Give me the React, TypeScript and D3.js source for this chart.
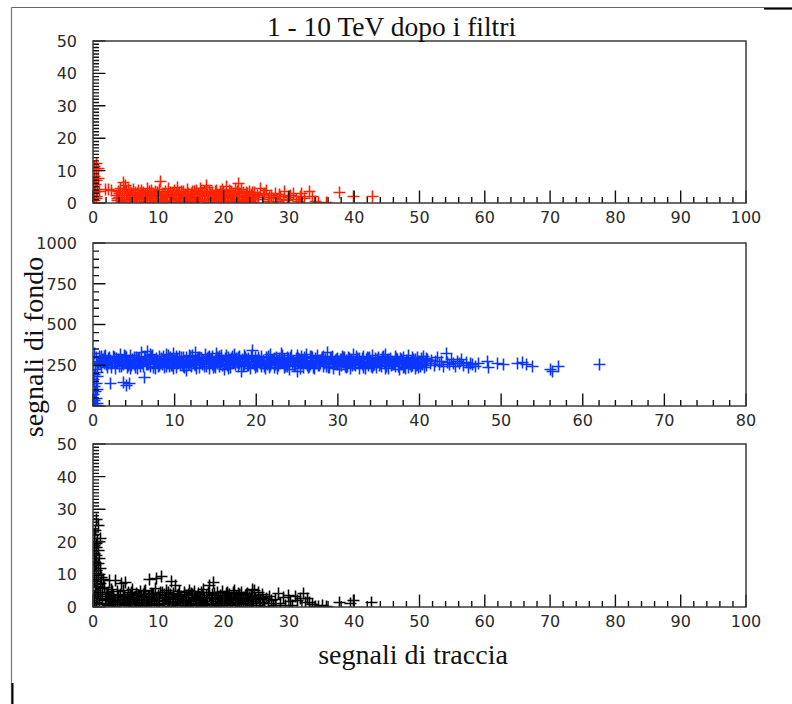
import React from 'react';
import * as d3 from 'd3';

type Pt = [number, number];

// ---- axis ticks and texts ----
const xTicksWide = [0, 10, 20, 30, 40, 50, 60, 70, 80, 90, 100];
const xTicksNarrow = [0, 10, 20, 30, 40, 50, 60, 70, 80];
const yTicksSmall = [0, 10, 20, 30, 40, 50];
const yTicksLarge = [0, 250, 500, 750, 1000];

const titleText = '1 - 10 TeV dopo i filtri';
const xAxisTitle = 'segnali di traccia';
const yAxisTitle = 'segnali di fondo';

// ---- upper panel: red events (traccia, fondo) ----
const redPoints: Pt[] = [
  [0.5,12.2],[0.3,11.2],[0.9,10.6],[0.6,9.9],[0.2,8.1],[0.8,7.5],[0.5,6.9],[0.1,6.2],[0.4,5.6],[0.7,4.3],
  [1.0,3.6],[0.3,3.1],[0.6,2.0],[0.5,1.5],[0.2,0.9],[1.9,4.3],[2.4,4.1],[2.8,3.9],
  [3.6,2.2],[3.8,0.9],[3.9,3.4],[4.1,1.6],[4.2,4.4],[4.4,0.5],[4.5,2.8],[4.6,6.4],[4.8,1.2],[4.9,3.7],
  [5.0,5.3],[5.1,0.3],[5.3,2.4],[5.4,4.1],[5.6,1.8],[5.7,3.1],[5.9,0.7],[6.0,2.6],[6.2,4.3],[6.3,1.4],
  [6.5,3.3],[6.6,0.4],[6.8,2.1],[6.9,3.8],[7.1,1.0],[7.2,2.9],[7.4,0.6],[7.5,4.0],[7.7,1.7],[7.8,3.2],
  [8.0,0.2],[8.1,2.5],[8.3,4.5],[8.4,1.3],[8.6,3.5],[8.7,0.8],[8.9,2.3],[9.0,3.9],[9.2,1.5],[9.3,2.8],
  [9.5,0.5],[9.6,3.6],[9.8,1.9],[9.9,2.7],[10.1,0.9],[10.2,4.2],[10.4,6.5],[10.5,1.1],[10.7,3.0],[10.8,2.0],
  [11.0,0.4],[11.1,3.7],[11.3,1.6],[11.4,2.6],[11.6,4.6],[11.7,0.7],[11.9,3.1],[12.0,1.8],[12.2,2.4],[12.3,0.3],
  [12.5,3.9],[12.6,1.2],[12.8,2.9],[12.9,4.8],[13.1,0.8],[13.2,3.3],[13.4,1.5],[13.5,2.2],[13.7,0.5],[13.8,3.6],
  [14.0,1.9],[14.1,2.7],[14.3,0.2],[14.4,4.1],[14.6,1.4],[14.7,3.0],[14.9,2.1],[15.0,0.6],[15.2,3.4],[15.3,1.7],
  [15.5,2.5],[15.6,0.9],[15.8,3.8],[15.9,1.3],[16.1,2.8],[16.2,0.4],[16.4,3.2],[16.5,4.4],[16.7,1.0],[16.8,2.3],
  [17.0,3.5],[17.1,0.7],[17.3,1.9],[17.4,4.7],[17.4,5.5],[17.6,2.6],[17.7,1.2],[17.9,3.7],[18.0,0.3],[18.2,2.2],
  [18.3,3.1],[18.5,1.5],[18.6,0.8],[18.8,2.9],[18.9,4.0],[19.1,1.1],[19.2,2.4],[19.4,0.5],[19.5,3.4],[19.7,1.8],
  [19.8,4.3],[20.0,2.7],[20.1,0.9],[20.3,1.6],[20.4,3.3],[20.5,5.0],[20.6,0.4],[20.7,2.1],[20.9,3.9],[21.0,1.3],
  [21.2,2.6],[21.3,0.7],[21.5,3.0],[21.6,1.9],[21.8,4.5],[21.9,0.2],[22.1,2.3],[22.2,3.6],[22.3,6.0],[22.4,1.0],
  [22.5,2.8],[22.7,4.2],[22.8,0.6],[23.0,1.7],[23.1,3.2],[23.3,2.0],[23.4,0.4],[23.6,2.9],[23.7,1.4],[23.9,3.5],
  [24.0,0.8],[24.2,2.5],[24.3,1.2],[24.5,3.1],[24.6,0.3],[24.8,2.0],[24.9,1.6],
  [3.75,1.4],[4.05,2.9],[4.35,0.8],[4.75,2.2],[5.15,3.6],[5.55,1.1],[5.95,2.9],[6.35,0.6],[6.75,3.0],[7.15,1.8],
  [7.55,2.6],[7.95,1.0],[8.35,3.0],[8.75,2.0],[9.15,0.9],[9.55,2.2],[9.95,3.3],[10.35,1.5],[10.75,0.6],[11.15,2.3],
  [11.55,3.4],[11.95,0.9],[12.35,2.7],[12.75,1.4],[13.15,2.5],[13.55,3.7],[13.95,0.7],[14.35,2.4],[14.75,1.1],[15.15,2.9],
  [15.55,3.6],[15.95,2.0],[16.35,1.2],[16.75,3.0],[17.15,2.1],[17.55,0.8],[17.95,2.7],[18.35,1.4],[18.75,3.5],[19.15,2.0],
  [19.55,0.7],[19.95,3.1],[20.35,2.4],[20.75,1.3],[21.15,3.4],[21.55,2.2],[21.95,1.0],[22.35,3.0],[22.75,2.0],[23.15,0.9],
  [23.55,3.3],[23.95,2.2],[24.35,1.0],[24.75,3.2],[25.4,1.8],[26.1,2.6],[27.0,1.7],[28.5,2.7],[30.0,1.6],[31.8,2.0],
  [25.2,2.4],[25.6,4.6],[25.9,1.1],[26.3,2.9],[26.6,3.9],[26.9,0.6],[27.3,2.2],[27.6,1.4],[28.0,3.0],[28.3,0.5],
  [28.7,2.1],[29.1,1.2],[29.4,3.6],[29.8,0.9],[30.2,2.3],[30.7,3.0],[31.1,1.1],[31.5,0.4],[32.0,2.8],[32.4,1.5],
  [33.2,3.6],[33.6,1.9],[34.1,0.6],[34.6,0.3],[35.8,0.2],[37.8,3.2],[39.9,1.9],[42.8,1.9],
];

// ---- middle panel: blue events ----
const bluePoints: Pt[] = [
  [0.2,322],[0.4,296],[0.1,271],[0.5,246],[0.3,221],[0.2,196],[0.6,178],[0.1,160],[0.4,141],[0.2,122],
  [0.5,104],[0.3,86],[0.1,69],[0.4,48],[0.2,31],[0.5,14],[0.3,4],[0.7,262],[0.8,304],[0.6,208],
  [2.1,138],[3.7,142],[4.1,128],[4.5,135],[6.3,174],
  [0.9,268],[1.0,301],[1.1,244],[1.3,285],[1.4,259],[1.5,312],[1.7,276],[1.8,238],[1.9,290],[2.1,263],
  [2.2,281],[2.3,249],[2.5,305],[2.6,272],[2.7,227],[2.9,294],[3.0,258],[3.1,283],[3.3,241],[3.4,318],
  [3.5,270],[3.7,252],[3.8,288],[3.9,265],[4.1,299],[4.2,236],[4.3,279],[4.5,261],[4.6,308],[4.7,247],
  [4.9,284],[5.0,271],[5.1,256],[5.3,296],[5.4,233],[5.5,277],[5.7,289],[5.8,250],[5.9,326],[6.1,266],
  [6.2,240],[6.3,302],[6.5,274],[6.6,255],[6.7,337],[6.9,286],[7.0,243],[7.1,269],[7.3,311],[7.4,260],
  [7.5,281],[7.7,229],[7.8,292],[7.9,267],[8.1,248],[8.2,304],[8.3,276],[8.5,257],[8.6,287],[8.7,239],
  [8.9,273],[9.0,315],[9.1,262],[9.3,283],[9.4,245],[9.5,298],[9.7,270],[9.8,251],[9.9,322],[10.1,279],
  [10.2,234],[10.3,291],[10.5,264],[10.6,306],[10.7,246],[10.9,282],[11.0,258],[11.1,296],[11.3,271],[11.4,218],
  [11.5,288],[11.7,253],[11.8,309],[11.9,275],[12.1,242],[12.2,285],[12.3,266],[12.5,329],[12.6,249],[12.7,278],
  [12.9,300],[13.0,237],[13.1,269],[13.3,292],[13.4,256],[13.5,281],[13.7,244],[13.8,313],[13.9,272],[14.1,260],
  [14.2,297],[14.3,231],[14.5,284],[14.6,266],[14.7,303],[14.9,250],[15.0,277],[15.1,321],[15.3,258],[15.4,289],
  [15.5,241],[15.7,274],[15.8,307],[15.9,263],[16.1,226],[16.2,286],[16.3,270],[16.5,248],[16.6,299],[16.7,279],
  [16.9,238],[17.0,292],[17.1,262],[17.3,316],[17.4,254],[17.5,283],[17.7,268],[17.8,243],[17.9,301],[18.1,273],
  [18.2,214],[18.3,288],[18.5,257],[18.6,311],[18.7,276],[18.9,247],[19.0,294],[19.1,265],[19.3,232],[19.4,284],
  [19.5,340],[19.7,270],[19.8,252],[19.9,298],[20.1,279],[20.2,240],[20.3,290],[20.5,261],[20.6,305],[20.7,245],
  [20.9,282],[21.0,267],[21.1,228],[21.3,296],[21.4,256],[21.5,278],[21.7,313],[21.8,249],[21.9,272],[22.1,287],
  [22.2,235],[22.3,263],[22.5,300],[22.6,274],[22.7,246],[22.9,291],[23.0,259],[23.1,320],[23.3,269],[23.4,239],
  [23.5,284],[23.7,253],[23.8,297],[23.9,266],[24.1,224],[24.2,280],[24.3,308],[24.5,257],[24.6,275],[24.7,243],
  [24.9,293],[25.0,264],[25.1,211],[25.3,285],[25.4,250],[25.5,303],[25.7,271],[25.8,237],[25.9,289],[26.1,260],
  [26.2,317],[26.3,276],[26.5,244],[26.6,282],[26.7,255],[26.9,298],[27.0,268],[27.1,229],[27.3,290],[27.4,262],
  [27.5,310],[27.7,247],[27.8,279],[27.9,258],[28.1,295],[28.2,240],[28.3,273],[28.5,286],[28.6,252],[28.7,327],
  [28.9,266],[29.0,236],[29.1,283],[29.3,261],[29.4,301],[29.5,245],[29.7,277],[29.8,256],[29.9,292],[30.1,270],
  [30.2,222],[30.3,288],[30.5,251],[30.6,306],[30.7,264],[30.9,241],[31.0,281],[31.1,259],[31.3,297],[31.4,272],
  [31.5,233],[31.7,286],[31.8,254],[31.9,314],[32.1,267],[32.2,246],[32.3,279],[32.5,261],[32.6,294],[32.7,238],
  [32.9,274],[33.0,256],[33.1,302],[33.3,269],[33.4,227],[33.5,284],[33.7,250],[33.8,290],[33.9,263],[34.1,243],
  [34.2,309],[34.3,276],[34.5,255],[34.6,282],[34.7,234],[34.9,268],[35.0,296],[35.1,258],[35.3,272],[35.4,242],
  [35.5,287],[35.7,262],[35.8,318],[35.9,251],[36.1,278],[36.2,231],[36.3,265],[36.5,293],[36.6,248],[36.7,274],
  [36.9,259],[37.0,305],[37.1,240],[37.3,283],[37.4,264],[37.5,226],[37.7,290],[37.8,253],[37.9,271],[38.1,299],
  [38.2,245],[38.3,262],[38.5,281],[38.6,236],[38.7,309],[38.9,257],[39.0,275],[39.1,249],[39.3,288],[39.4,266],
  [39.5,232],[39.7,295],[39.8,254],[39.9,273],[40.1,244],[40.2,284],[40.3,260],[40.5,302],[40.6,239],[40.7,270],
  [40.9,251],[41.0,286],
  [1.2,283],[1.6,256],[2.0,297],[2.4,270],[2.8,247],[3.2,288],[3.6,262],[4.0,305],[4.4,251],[4.8,276],
  [5.2,239],[5.6,293],[6.0,268],[6.4,284],[6.8,255],[7.2,299],[7.6,273],[8.0,242],[8.4,289],[8.8,263],
  [9.2,307],[9.6,249],[10.0,280],[10.4,258],[10.8,295],[11.2,236],[11.6,271],[12.0,302],[12.4,254],[12.8,287],
  [13.2,266],[13.6,245],[14.0,291],[14.4,276],[14.8,235],[15.2,298],[15.6,262],[16.0,281],[16.4,309],[16.8,250],
  [17.2,273],[17.6,292],[18.0,258],[18.4,240],[18.8,285],[19.2,267],[19.6,304],[20.0,248],[20.4,279],[20.8,263],
  [21.2,296],[21.6,237],[22.0,282],[22.4,255],[22.8,271],[23.2,310],[23.6,244],[24.0,289],[24.4,265],[24.8,251],
  [25.2,293],[25.6,259],[26.0,280],[26.4,234],[26.8,303],[27.2,272],[27.6,249],[28.0,286],[28.4,261],[28.8,238],
  [29.2,294],[29.6,266],[30.0,253],[30.4,283],[30.8,298],[31.2,244],[31.6,275],[32.0,257],[32.4,289],[32.8,265],
  [33.2,235],[33.6,296],[34.0,270],[34.4,248],[34.8,284],[35.2,261],[35.6,305],[36.0,243],[36.4,277],[36.8,255],
  [37.2,291],[37.6,268],[38.0,238],[38.4,282],[38.8,260],[39.2,299],[39.6,247],[40.0,276],[40.4,256],[40.8,290],
  [1.05,246],[1.45,303],[1.85,262],[2.25,236],[2.65,298],[3.05,271],[3.45,244],[3.85,309],[4.25,258],[4.65,232],
  [5.05,300],[5.45,266],[5.85,241],[6.25,296],[6.65,252],[7.05,314],[7.45,237],[7.85,280],[8.25,261],[8.65,303],
  [9.05,243],[9.45,290],[9.85,230],[10.25,305],[10.65,268],[11.05,240],[11.45,299],[11.85,257],[12.25,311],[12.65,233],
  [13.05,296],[13.45,270],[13.85,242],[14.25,304],[14.65,256],[15.05,238],[15.45,301],[15.85,246],[16.25,293],[16.65,229],
  [17.05,306],[17.45,263],[17.85,296],[18.25,241],[18.65,300],[19.05,250],[19.45,312],[19.85,236],[20.25,297],[20.65,269],
  [21.05,242],[21.45,303],[21.85,258],[22.25,292],[22.65,231],[23.05,300],[23.45,264],[23.85,240],[24.25,298],[24.65,252],
  [25.05,307],[25.45,233],[25.85,295],[26.25,247],[26.65,301],[27.05,238],[27.45,291],[27.85,260],[28.25,305],[28.65,242],
  [29.05,296],[29.45,231],[29.85,288],[30.25,255],[30.65,299],[31.05,237],[31.45,293],[31.85,248],[32.25,303],[32.65,230],
  [33.05,289],[33.45,258],[33.85,298],[34.25,236],[34.65,292],[35.05,246],[35.45,300],[35.85,232],[36.25,288],[36.65,256],
  [37.05,295],[37.45,241],[37.85,286],[38.25,229],[38.65,293],[39.05,244],[39.45,283],[39.85,236],[40.25,291],[40.65,247],
  [41.3,262],[41.5,281],[41.8,248],[42.0,270],[42.2,295],[42.5,257],[42.7,276],[43.0,240],[43.3,321],[43.4,266],
  [43.7,252],[43.9,284],[44.2,261],[44.4,243],[44.6,274],[44.9,258],[45.2,286],[45.4,249],[45.7,268],[46.0,236],
  [46.2,262],[46.5,255],[46.9,243],[47.2,260],
  [48.3,270],[48.5,239],[49.6,262],[50.3,252],[52.0,262],[52.6,268],[53.1,256],[53.8,244],[56.0,225],[56.3,214],
  [57.0,244],[62.0,256],
];

// ---- lower panel: black events ----
const blackPoints: Pt[] = [
  [0.6,26.7],[0.8,25.0],[0.4,23.6],[1.1,21.0],[0.3,22.2],[0.7,20.1],[0.2,19.0],[0.5,18.2],[0.9,17.4],[0.3,16.5],
  [0.6,15.7],[1.0,14.9],[0.2,14.0],[0.8,13.3],[0.4,12.6],[1.2,11.8],[0.6,11.1],[0.3,10.4],[0.9,9.7],[1.3,9.0],
  [0.5,8.4],[0.2,7.7],[1.1,7.1],[0.7,6.4],[1.5,5.8],[0.4,5.2],[0.9,4.6],[1.2,3.9],[0.3,3.3],[0.7,2.6],
  [1.4,2.0],[0.5,1.4],[1.0,0.8],[0.2,0.3],[0.6,19.4],[0.4,13.7],[0.8,10.1],[0.5,6.8],[1.6,8.3],[1.8,6.0],
  [2.0,3.1],[2.1,1.2],[2.3,4.4],[2.4,0.5],[2.5,2.6],[2.6,8.2],[2.8,1.8],[2.9,5.3],[3.0,0.9],[3.2,3.6],
  [3.3,2.2],[3.4,8.2],[3.5,0.3],[3.7,4.7],[3.8,1.5],[3.9,2.9],[4.1,0.7],[4.2,3.9],[4.4,7.2],[4.5,2.0],
  [4.6,5.1],[4.8,1.1],[4.9,3.3],[5.0,7.6],[5.2,0.4],[5.3,2.7],[5.4,4.5],[5.6,1.6],[5.7,3.8],[5.8,0.8],
  [6.0,2.4],[6.1,5.4],[6.3,1.3],[6.4,3.0],[6.5,0.2],[6.7,4.2],[6.8,2.1],[6.9,3.5],[7.1,0.6],[7.2,4.9],
  [7.4,1.9],[7.5,2.8],[7.6,0.9],[7.8,3.7],[7.9,1.4],[8.0,5.2],[8.2,2.3],[8.3,0.5],[8.5,3.2],[8.6,1.7],
  [8.7,8.5],[8.9,4.1],[9.0,0.8],[9.1,2.6],[9.3,3.9],[9.4,1.2],[9.5,5.6],[9.7,2.0],[9.8,8.7],[9.9,0.4],
  [10.1,3.4],[10.2,1.6],[10.4,4.6],[10.5,9.4],[10.6,2.5],[10.8,0.7],[10.9,3.8],[11.0,1.9],[11.2,5.0],[11.3,2.9],
  [11.5,0.3],[11.6,4.3],[11.7,1.4],[11.9,3.1],[12.0,7.7],[12.2,2.2],[12.3,0.9],[12.4,4.0],[12.6,6.7],[12.7,1.7],
  [12.9,3.5],[13.0,0.5],[13.1,2.7],[13.3,4.8],[13.4,1.2],[13.6,3.3],[13.7,2.0],[13.8,0.6],[14.0,4.4],[14.1,1.5],
  [14.3,2.9],[14.4,0.2],[14.6,3.7],[14.7,1.9],[14.8,5.1],[15.0,0.8],[15.1,2.4],[15.3,3.9],[15.4,1.1],[15.5,4.7],
  [15.7,2.6],[15.8,0.4],[16.0,3.2],[16.1,1.7],[16.2,4.1],[16.4,0.9],[16.5,2.3],[16.7,3.6],[16.8,1.3],[16.9,5.3],
  [17.1,2.8],[17.2,0.5],[17.4,3.4],[17.5,1.6],[17.7,4.5],[17.8,6.7],[18.0,0.7],[18.1,2.5],[18.3,3.9],[18.4,7.5],
  [18.5,1.2],[18.7,3.0],[18.8,0.3],[19.0,4.3],[19.1,1.8],[19.2,2.7],[19.4,0.6],[19.5,3.6],[19.7,1.4],[19.8,4.8],
  [19.9,2.2],[20.1,0.9],[20.2,3.3],[20.4,1.7],[20.5,4.0],[20.6,0.4],[20.8,2.6],[20.9,3.7],[21.1,1.1],[21.2,2.9],
  [21.4,0.5],[21.5,4.4],[21.7,5.1],[21.8,1.9],[21.9,3.2],[22.1,0.8],[22.2,2.4],[22.4,3.8],[22.5,1.3],[22.7,4.6],
  [22.8,0.3],[23.0,2.8],[23.1,1.6],[23.3,3.5],[23.4,0.7],[23.6,2.1],[23.7,4.2],[23.9,1.0],[24.0,3.0],[24.2,1.8],
  [24.4,5.5],[24.5,0.4],[24.8,5.1],[24.9,2.5],[25.1,1.2],[25.3,3.4],[25.5,0.6],[25.7,2.2],[25.9,3.9],[26.1,1.5],
  [26.3,0.3],[26.5,2.7],[26.8,1.0],[27.0,3.3],[27.3,1.9],[27.6,0.5],
  [1.9,2.3],[2.25,3.7],[2.65,1.0],[3.05,4.8],[3.45,2.1],[3.85,3.6],[4.25,1.3],[4.65,3.0],[5.05,2.2],[5.45,1.0],
  [5.85,4.4],[6.25,2.6],[6.65,1.0],[7.05,3.5],[7.45,2.3],[7.85,4.8],[8.25,1.2],[8.65,2.9],[9.05,3.8],[9.45,2.4],
  [9.85,1.0],[10.25,3.0],[10.65,4.4],[11.05,2.6],[11.45,1.2],[11.85,3.8],[12.25,2.9],[12.65,1.3],[13.05,3.9],[13.45,2.4],
  [13.85,1.5],[14.25,3.4],[14.65,2.4],[15.05,4.2],[15.45,1.8],[15.85,3.0],[16.25,2.0],[16.65,4.4],[17.05,1.2],[17.45,2.6],
  [17.85,3.4],[18.25,1.8],[18.65,4.2],[19.05,2.4],[19.45,1.2],[19.85,3.2],[20.25,2.2],[20.65,4.3],[21.05,2.0],[21.45,3.0],
  [21.85,1.4],[22.25,4.0],[22.65,2.5],[23.05,1.1],[23.45,3.9],[23.85,2.4],[24.25,3.2],[24.65,1.6],[25.3,4.3],[26.0,2.8],
  [28.0,2.4],[28.4,4.1],[28.7,1.2],[29.1,2.9],[29.5,0.6],[29.9,3.6],[30.3,1.8],[30.6,0.4],[31.0,3.3],[31.3,2.1],
  [31.7,2.7],[32.2,4.1],[32.5,1.4],[32.9,2.6],[33.2,1.5],[33.6,0.8],[34.1,0.3],[34.6,0.2],[35.1,0.4],[35.7,0.1],
  [37.8,1.5],[39.5,1.2],[39.9,2.1],[42.7,1.5],
];

// ---- layout ----
const W = 792;
const H = 704;
const LEFT = 93;
const RIGHT = 746;
const ARM = 6; // half length of a "+" marker
const MAJOR = 12.5;
const MINOR = 6;
const SANS = '"DejaVu Sans", Verdana, sans-serif';
const SERIF = '"Liberation Serif", "Times New Roman", Times, serif';

interface PanelDef {
  id: string;
  top: number;
  bottom: number;
  xMax: number;
  yMax: number;
  xTicks: number[];
  yTicks: number[];
  xStep: number;
  yStep: number;
  points: Pt[];
  color: string;
}

const panels: PanelDef[] = [
  { id: 'p1', top: 41, bottom: 203, xMax: 100, yMax: 50, xTicks: xTicksWide, yTicks: yTicksSmall, xStep: 2, yStep: 1, points: redPoints, color: '#ff2200' },
  { id: 'p2', top: 243, bottom: 406, xMax: 80, yMax: 1000, xTicks: xTicksNarrow, yTicks: yTicksLarge, xStep: 2, yStep: 50, points: bluePoints, color: '#0a36ff' },
  { id: 'p3', top: 444, bottom: 607, xMax: 100, yMax: 50, xTicks: xTicksWide, yTicks: yTicksSmall, xStep: 2, yStep: 1, points: blackPoints, color: '#000000' },
];

function minorValues(max: number, step: number, majors: number[]): number[] {
  return d3.range(0, max + step / 2, step).filter((v) => !majors.some((m) => Math.abs(m - v) < 1e-6));
}

// snap to pixel centres so thin marker strokes stay fully saturated
const snap = (v: number) => Math.round(v - 0.5) + 0.5;

function Panel({ def }: { def: PanelDef }) {
  const x = d3.scaleLinear().domain([0, def.xMax]).range([LEFT, RIGHT]);
  const y = d3.scaleLinear().domain([0, def.yMax]).range([def.bottom, def.top]);

  const markers = def.points
    .map(([a, b]) => {
      const cx = snap(x(a));
      const cy = snap(y(b));
      return `M${cx - ARM},${cy}h${2 * ARM}M${cx},${cy - ARM}v${2 * ARM}`;
    })
    .join('');

  const xMinor = minorValues(def.xMax, def.xStep, def.xTicks);
  const yMinor = minorValues(def.yMax, def.yStep, def.yTicks);

  const tickPath =
    def.xTicks.map((t) => `M${x(t)},${def.bottom}v${-MAJOR}`).join('') +
    xMinor.map((t) => `M${x(t)},${def.bottom}v${-MINOR}`).join('') +
    def.yTicks.map((t) => `M${LEFT},${y(t)}h${MAJOR}`).join('') +
    yMinor.map((t) => `M${LEFT},${y(t)}h${MINOR}`).join('');

  return (
    <g>
      <defs>
        <clipPath id={`clip-${def.id}`}>
          <rect x={LEFT} y={def.top} width={RIGHT - LEFT} height={def.bottom - def.top} />
        </clipPath>
      </defs>
      <path d={markers} stroke={def.color} strokeWidth={1.6} fill="none" clipPath={`url(#clip-${def.id})`} />
      <path d={tickPath} stroke="#111" strokeWidth={1.4} fill="none" />
      <rect x={LEFT} y={def.top} width={RIGHT - LEFT} height={def.bottom - def.top} fill="none" stroke="#3a3a3a" strokeWidth={1.5} />
      <g fontFamily={SANS} fontSize={16} fill="#2a2a2a">
        {def.xTicks.map((t) => (
          <text key={`x${t}`} x={x(t)} y={def.bottom + 20} textAnchor="middle">
            {t}
          </text>
        ))}
        {def.yTicks.map((t) => (
          <text key={`y${t}`} x={LEFT - 16} y={y(t)} dy="0.37em" textAnchor="end">
            {t}
          </text>
        ))}
      </g>
    </g>
  );
}

export default function App() {
  return (
    <svg
      width={W}
      height={H}
      viewBox={`0 0 ${W} ${H}`}
      style={{ position: 'absolute', left: 0, top: 0, background: '#fff' }}
    >
      <rect x={0} y={0} width={W} height={H} fill="#fff" />
      {/* page edges */}
      <line x1={11.5} y1={7.5} x2={764} y2={7.5} stroke="#666" strokeWidth={1.2} />
      <line x1={764} y1={8.5} x2={792} y2={8.5} stroke="#000" strokeWidth={2.2} />
      <line x1={11.5} y1={7.5} x2={11.5} y2={704} stroke="#777" strokeWidth={1.2} />
      <line x1={12.5} y1={683} x2={12.5} y2={704} stroke="#000" strokeWidth={2} />

      {panels.map((p) => (
        <Panel key={p.id} def={p} />
      ))}

      <text x={391.5} y={36} textAnchor="middle" fontFamily={SERIF} fontSize={27.5} fill="#111">
        {titleText}
      </text>
      <text x={413} y={663.5} textAnchor="middle" fontFamily={SERIF} fontSize={28} fill="#111">
        {xAxisTitle}
      </text>
      <text transform="translate(43,347) rotate(-90)" textAnchor="middle" fontFamily={SERIF} fontSize={28} fill="#111">
        {yAxisTitle}
      </text>
    </svg>
  );
}
